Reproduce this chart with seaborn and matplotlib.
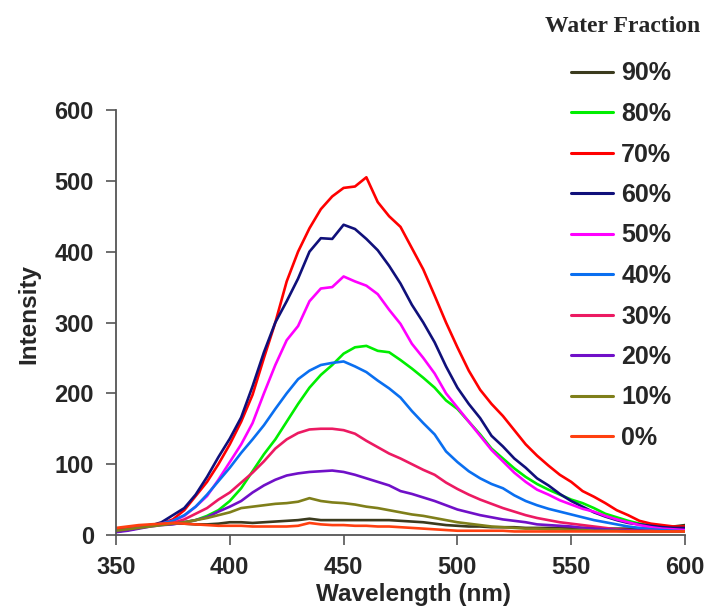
import numpy as np
import pandas as pd
import matplotlib
matplotlib.use("Agg")
import matplotlib.pyplot as plt
import seaborn as sns

wavelength = list(range(350, 601, 5))

w90 = [8, 10, 12, 14, 15, 16, 16, 15, 15, 16, 18, 18, 17, 18, 19, 20, 21, 23, 21, 21,
       21, 21, 21, 21, 21, 20, 19, 18, 16, 14, 13, 12, 12, 11, 11, 11, 10, 10, 10, 10,
       10, 10, 10, 9, 9, 9, 9, 9, 10, 12, 14]
w80 = [7, 9, 11, 13, 15, 16, 18, 21, 27, 35, 48, 66, 90, 114, 135, 160, 185, 208, 226, 240,
       256, 265, 267, 260, 258, 247, 235, 222, 208, 190, 178, 160, 142, 122, 108, 94, 82, 72, 64, 57,
       50, 45, 38, 30, 25, 20, 16, 13, 11, 10, 10]
w70 = [8, 10, 12, 14, 16, 22, 35, 55, 75, 100, 128, 160, 198, 250, 300, 358, 400, 433, 460, 478,
       490, 492, 505, 470, 450, 435, 405, 375, 338, 300, 265, 232, 205, 185, 168, 148, 128, 112, 98, 85,
       75, 62, 54, 45, 35, 28, 20, 16, 14, 12, 12]
w60 = [5, 7, 10, 13, 18, 28, 38, 57, 82, 110, 136, 166, 210, 258, 300, 330, 362, 400, 419, 418,
       438, 432, 418, 402, 380, 355, 325, 300, 272, 238, 208, 185, 165, 140, 125, 108, 95, 80, 70, 58,
       48, 40, 32, 26, 21, 17, 15, 13, 11, 10, 10]
w50 = [5, 7, 10, 13, 16, 20, 27, 40, 55, 78, 103, 128, 158, 200, 240, 275, 295, 330, 348, 350,
       365, 358, 352, 340, 318, 298, 270, 250, 228, 200, 180, 160, 140, 120, 104, 88, 75, 64, 57, 49,
       43, 37, 33, 27, 22, 18, 14, 11, 9, 8, 7]
w40 = [5, 7, 10, 13, 16, 20, 28, 40, 57, 76, 95, 116, 135, 155, 178, 200, 220, 232, 240, 243,
       245, 238, 230, 218, 207, 194, 175, 158, 142, 118, 103, 90, 80, 72, 66, 56, 48, 42, 37, 33,
       29, 25, 21, 18, 15, 12, 10, 8, 7, 6, 5]
w30 = [6, 8, 11, 13, 15, 17, 22, 30, 38, 50, 60, 74, 88, 104, 122, 135, 144, 149, 150, 150,
       148, 143, 133, 124, 115, 108, 100, 92, 85, 74, 65, 57, 50, 44, 38, 33, 28, 24, 21, 18,
       16, 14, 12, 10, 8, 7, 6, 6, 5, 5, 5]
w20 = [4, 6, 9, 12, 14, 15, 18, 21, 25, 33, 40, 48, 60, 70, 78, 84, 87, 89, 90, 91,
       89, 85, 80, 75, 70, 62, 58, 53, 48, 42, 36, 32, 28, 25, 22, 20, 18, 15, 14, 13,
       12, 10, 9, 8, 7, 6, 6, 5, 5, 5, 5]
w10 = [6, 8, 10, 12, 14, 16, 18, 21, 24, 28, 32, 38, 40, 42, 44, 45, 47, 52, 48, 46,
       45, 43, 40, 38, 35, 32, 29, 27, 24, 21, 18, 16, 14, 12, 11, 10, 9, 9, 8, 8,
       7, 7, 6, 6, 6, 5, 5, 5, 5, 5, 5]
w0 = [10, 12, 14, 15, 16, 17, 16, 15, 14, 13, 13, 13, 12, 12, 12, 12, 13, 17, 15, 14,
      14, 13, 13, 12, 12, 11, 10, 9, 8, 7, 6, 6, 6, 6, 6, 5, 5, 5, 5, 5,
      5, 5, 5, 5, 5, 5, 5, 5, 5, 5, 5]

series_labels = ["90%", "80%", "70%", "60%", "50%", "40%", "30%", "20%", "10%", "0%"]
series_values = [w90, w80, w70, w60, w50, w40, w30, w20, w10, w0]
colors = ["#3b3b1e", "#00ee00", "#ff0000", "#10107a", "#ff00ff",
          "#0a6ff0", "#ec1a62", "#7010c8", "#7f7f1a", "#ff4010"]

x_ticks = [350, 400, 450, 500, 550, 600]
y_ticks = [0, 100, 200, 300, 400, 500, 600]

frames = []
for lab, vals in zip(series_labels, series_values):
    frames.append(pd.DataFrame({"Wavelength": wavelength, "Intensity": vals, "Water": lab}))
df = pd.concat(frames, ignore_index=True)

sns.set_style("white")
plt.rcParams["font.family"] = ["Liberation Sans", "DejaVu Sans"]

fig = plt.figure(figsize=(7.12, 6.13), dpi=100)
ax = fig.add_axes([116/712, 1-535/613, (685-116)/712, (535-110)/613])

palette = dict(zip(series_labels, colors))
sns.lineplot(data=df, x="Wavelength", y="Intensity", hue="Water", hue_order=series_labels,
             palette=palette, linewidth=1.9, ax=ax, legend=True)

ax.set_xlim(350, 600)
ax.set_ylim(0, 600)
ax.set_xticks(x_ticks)
ax.set_yticks(y_ticks)
for s in ["top", "right"]:
    ax.spines[s].set_visible(False)
for s in ["left", "bottom"]:
    ax.spines[s].set_color("#555555")
    ax.spines[s].set_linewidth(1.3)
ax.tick_params(axis="both", direction="out", length=7, width=1.2, color="#555555",
               labelsize=17, left=True, bottom=True)
ax.tick_params(axis="y", pad=9)
ax.tick_params(axis="x", pad=8)
for t in ax.get_xticklabels() + ax.get_yticklabels():
    t.set_fontweight("bold")

ax.set_xlabel("Wavelength (nm)", fontsize=17.5, fontweight="bold")
ax.set_ylabel("Intensity", fontsize=17.5, fontweight="bold")
ax.xaxis.set_label_coords((414-116)/569, -(583-535)/425)
ax.yaxis.set_label_coords(-(116-40)/569, (535-314)/425)

handles, labels = ax.get_legend_handles_labels()
leg = ax.legend(handles, labels, loc="upper left", bbox_to_anchor=(553/712, 1-44/613),
                bbox_transform=fig.transFigure, frameon=False,
                prop={"family": ["Liberation Sans", "DejaVu Sans"], "weight": "bold", "size": 18},
                handlelength=1.7, handletextpad=0.33, labelspacing=0.66, borderpad=0.2)
for h in leg.get_lines():
    h.set_linewidth(2.2)
fig.text(623/712, 1-27/613, "Water Fraction", ha="center", va="center",
         family=["Liberation Serif"], fontweight="bold", fontsize=17)

fig.savefig("out.png", dpi=100)
